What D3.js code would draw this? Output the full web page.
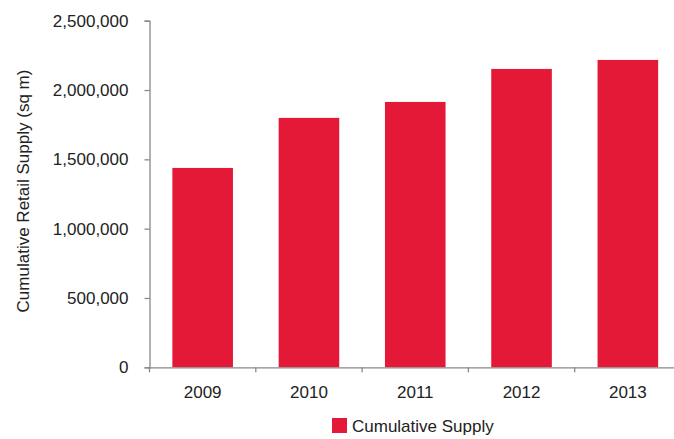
<!DOCTYPE html>
<html><head><meta charset="utf-8">
<script src="https://cdn.jsdelivr.net/npm/d3@7"></script>
<style>
body{margin:0;background:#fff;}
svg text{font-family:"Liberation Sans",Arial,sans-serif;fill:#222;}
</style></head>
<body><svg id="c" width="674" height="439"></svg>
<script>
const categories = ["2009","2010","2011","2012","2013"];
const supplyValues = [1438000, 1799000, 1914000, 2152000, 2217000];
const yTicks = [0, 500000, 1000000, 1500000, 2000000, 2500000];
const seriesName = "Cumulative Supply";
const yTitle = "Cumulative Retail Supply (sq m)";

(function(){
const svg = d3.select("#c");
const plotL = 149.5, plotR = 681, plotT = 20.7, plotB = 367.3;
const barColor = "#E31937", axisColor = "#888";

const x = d3.scaleBand().domain(categories).range([plotL, plotR]).paddingInner(0.43).paddingOuter(0.215);
const y = d3.scaleLinear().domain([0, 2500000]).range([plotB, plotT]);

svg.append("g").selectAll("rect").data(categories).join("rect")
  .attr("x", d => x(d)).attr("width", x.bandwidth())
  .attr("y", (d,i) => y(supplyValues[i])).attr("height", (d,i) => plotB - y(supplyValues[i]))
  .attr("fill", barColor);

// y axis
const ya = svg.append("g").attr("transform", `translate(${plotL},0)`)
  .call(d3.axisLeft(y).tickValues(yTicks).tickSize(5).tickPadding(16).tickFormat(d3.format(",")));
ya.selectAll("path,line").attr("stroke", axisColor).attr("stroke-width", 1.3);
ya.selectAll("text").attr("font-size", 17).attr("font-family", null);

// x axis
const step = x.step();
const xa = svg.append("g").attr("transform", `translate(0,${plotB})`)
  .call(d3.axisBottom(x).tickSize(0).tickPadding(19));
xa.select("path").attr("stroke", axisColor).attr("stroke-width", 1.3);
xa.selectAll("text").attr("font-size", 17).attr("font-family", null);
xa.selectAll("line.bound").data(d3.range(categories.length + 1)).join("line")
  .attr("class","bound")
  .attr("x1", i => plotL + i*step).attr("x2", i => plotL + i*step)
  .attr("y1", 0).attr("y2", 5).attr("stroke", axisColor).attr("stroke-width", 1.3);

// y title
svg.append("text").attr("transform", `translate(29,191) rotate(-90)`)
  .attr("text-anchor","middle").attr("font-size", 17).text(yTitle);

// legend
svg.append("rect").attr("x", 332).attr("y", 418).attr("width", 15).attr("height", 15).attr("fill", barColor);
svg.append("text").attr("x", 352).attr("y", 431.5).attr("font-size", 17).text(seriesName);
})();
</script></body></html>
